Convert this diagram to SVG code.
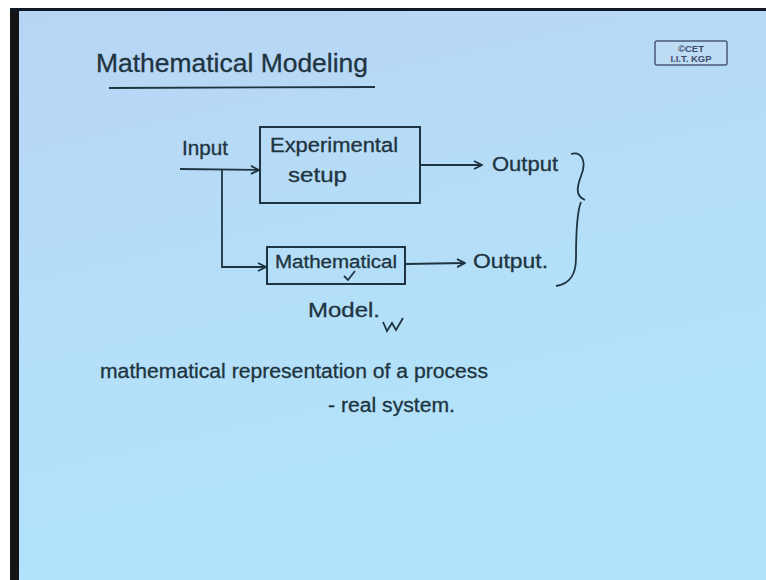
<svg xmlns="http://www.w3.org/2000/svg" width="766" height="580" viewBox="0 0 766 580">
<defs>
<linearGradient id="bg" x1="0" y1="0" x2="0.3" y2="1">
<stop offset="0" stop-color="#b8d4f4"/>
<stop offset="0.5" stop-color="#b5def8"/>
<stop offset="1" stop-color="#b1e4fb"/>
</linearGradient>
<marker id="arr" viewBox="0 0 10 10" refX="9" refY="5" markerWidth="10" markerHeight="10" markerUnits="userSpaceOnUse" orient="auto">
<path d="M1,1 L9,5 L1,9" fill="none" stroke="#1e3440" stroke-width="1.8"/>
</marker>
<style>
.ink{font-family:"Liberation Sans","DejaVu Sans",sans-serif;fill:#1e3440;stroke:#1e3440;stroke-width:0.3;}
.box{fill:none;stroke:#1e3440;stroke-width:2;}
.line{fill:none;stroke:#1e3440;stroke-width:1.8;}
.logo{font-family:"Liberation Sans",Arial,sans-serif;font-weight:bold;font-size:9.5px;fill:#3e4c6e;}
</style>
</defs>
<rect x="0" y="0" width="766" height="580" fill="#ffffff"/>
<rect x="10" y="8" width="756" height="572" fill="url(#bg)"/>
<rect x="10" y="8" width="9" height="572" fill="#141414"/>
<rect x="10" y="8" width="756" height="3" fill="#10182a"/>

<g id="title">
<text class="ink" x="96" y="72" font-size="26" textLength="272" lengthAdjust="spacingAndGlyphs" fill="#1c3c3c" stroke="#1c3c3c">Mathematical Modeling</text>
<path class="line" d="M109,88 L375,87" stroke="#1c3c3c"/>
</g>

<g id="logo">
<rect x="655" y="41" width="72" height="24" rx="2" fill="#bfdcf5" stroke="#4a5878" stroke-width="1.5"/>
<text class="logo" x="691" y="52" text-anchor="middle">©CET</text>
<text class="logo" x="691" y="62" text-anchor="middle">I.I.T. KGP</text>
</g>

<g id="input">
<text class="ink" x="182" y="155" font-size="20" textLength="46" lengthAdjust="spacingAndGlyphs">Input</text>
</g>

<g id="experimental-setup">
<rect class="box" x="260" y="127" width="160" height="76"/>
<text class="ink" x="270" y="152" font-size="20" textLength="128" lengthAdjust="spacingAndGlyphs">Experimental</text>
<text class="ink" x="288" y="182" font-size="21" textLength="59" lengthAdjust="spacingAndGlyphs">setup</text>
</g>

<g id="mathematical-model">
<rect class="box" x="267" y="247" width="138" height="37"/>
<text class="ink" x="275" y="268" font-size="18" textLength="122" lengthAdjust="spacingAndGlyphs">Mathematical</text>
<path class="line" d="M344,276 L348,280 L355,271"/>
<text class="ink" x="308" y="317" font-size="20" textLength="72" lengthAdjust="spacingAndGlyphs">Model.</text>
<path class="line" d="M383,322 L387,331 L392,323 L396,330 L403,318"/>
</g>

<g id="output-1">
<text class="ink" x="492" y="171" font-size="20" textLength="66" lengthAdjust="spacingAndGlyphs">Output</text>
</g>

<g id="output-2">
<text class="ink" x="473" y="268" font-size="20" textLength="75" lengthAdjust="spacingAndGlyphs">Output.</text>
</g>

<g id="brace">
<path class="line" d="M571,154 C582,151 587,162 581,176 C577,187 575,196 585,200 M581,202 C576,214 576,240 576,258 C576,275 570,284 556,286"/>
</g>

<g id="connectors">
<path class="line" d="M180,169 L259,170" marker-end="url(#arr)"/>
<path class="line" d="M222,169 L222,267 L266,267" marker-end="url(#arr)"/>
<path class="line" d="M420,165 L482,165" marker-end="url(#arr)"/>
<path class="line" d="M405,264 L465,263" marker-end="url(#arr)"/>
</g>

<g id="notes">
<text class="ink" x="100" y="378" font-size="20" textLength="388" lengthAdjust="spacingAndGlyphs">mathematical representation of a process</text>
<text class="ink" x="328" y="412" font-size="20" textLength="127" lengthAdjust="spacingAndGlyphs">- real system.</text>
</g>
</svg>
